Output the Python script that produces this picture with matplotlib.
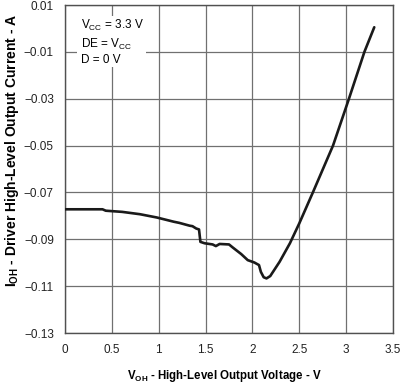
import matplotlib
matplotlib.use("Agg")
import matplotlib.pyplot as plt
from matplotlib.patches import Rectangle

plt.rcParams['font.family'] = ['Liberation Sans', 'DejaVu Sans']
plt.rcParams['mathtext.fontset'] = 'custom'
plt.rcParams['mathtext.rm'] = 'Liberation Sans'
plt.rcParams['mathtext.bf'] = 'Liberation Sans:bold'
plt.rcParams['axes.unicode_minus'] = True

# Curve data
v_oh = [0.00, 0.40, 0.435, 0.61, 0.80, 0.98, 1.16, 1.22, 1.33, 1.36, 1.40, 1.43,
        1.445, 1.49, 1.575, 1.61, 1.65, 1.75, 1.79, 1.88, 1.95, 2.02, 2.07, 2.09,
        2.12, 2.15, 2.19, 2.29, 2.40, 2.50, 2.645, 2.86, 3.03, 3.195, 3.30]
i_oh = [-0.0772, -0.0772, -0.0778, -0.0783, -0.0793, -0.0807, -0.0825, -0.0830,
        -0.0842, -0.0844, -0.0854, -0.0858, -0.0911, -0.0917, -0.0922, -0.0929,
        -0.0920, -0.0922, -0.0935, -0.0963, -0.0989, -0.0999, -0.1010, -0.1039,
        -0.1062, -0.1067, -0.1057, -0.0996, -0.0917, -0.0832, -0.0700, -0.0500,
        -0.0300, -0.0100, 0.0005]

x_ticks = [0, 0.5, 1, 1.5, 2, 2.5, 3, 3.5]
x_tick_labels = ['0', '0.5', '1', '1.5', '2', '2.5', '3', '3.5']
y_ticks = [0.01, -0.01, -0.03, -0.05, -0.07, -0.09, -0.11, -0.13]
y_tick_labels = ['0.01', '\u22120.01', '\u22120.03', '\u22120.05', '\u22120.07',
                 '\u22120.09', '\u22120.11', '\u22120.13']

fig = plt.figure(figsize=(4.02, 3.87), dpi=100)
ax = fig.add_axes([65/402, 1 - 333/387, (393-65)/402, (333-5)/387])

ax.set_xlim(0, 3.5)
ax.set_ylim(-0.13, 0.01)
ax.set_xticks(x_ticks)
ax.set_xticklabels(x_tick_labels)
ax.set_yticks(y_ticks)
ax.set_yticklabels(y_tick_labels)
ax.tick_params(axis='both', length=0, labelsize=8.5, colors='#222222')
ax.tick_params(axis='x', pad=8)
ax.tick_params(axis='y', pad=8)

ax.grid(True, color='#707070', linewidth=0.9)
ax.set_axisbelow(True)
for s in ax.spines.values():
    s.set_color('#505050')
    s.set_linewidth(1.0)

ax.plot(v_oh, i_oh, color='#1a1a1a', linewidth=1.9, zorder=3,
        solid_joinstyle='round', solid_capstyle='round')

# white label box covering the grid
ax.add_patch(Rectangle((0.037, 0.81), 0.21, 0.155, transform=ax.transAxes,
                       facecolor='white', edgecolor='none', zorder=2))
ax.text(0.05, 0.926, r'V$_{\mathrm{CC}}$ = 3.3 V', transform=ax.transAxes,
        fontsize=8.5, va='baseline', ha='left', zorder=4)
ax.text(0.05, 0.868, r'DE = V$_{\mathrm{CC}}$', transform=ax.transAxes,
        fontsize=8.5, va='baseline', ha='left', zorder=4)
ax.text(0.05, 0.822, 'D = 0 V', transform=ax.transAxes,
        fontsize=8.5, va='baseline', ha='left', zorder=4)

ax.set_xlabel(r'$\mathbf{V_{OH}}$ - High-Level Output Voltage - V',
              fontsize=8.3, fontweight='bold')
ax.xaxis.set_label_coords((224-65)/328, -(376-333)/328)
ax.set_ylabel(r'$\mathbf{I_{OH}}$ - Driver High-Level Output Current - A',
              fontsize=10.0, fontweight='bold')
ax.yaxis.set_label_coords((12-65)/328, (333-150)/328)
ax.xaxis.label.set_va('center')
ax.yaxis.label.set_va('center')

fig.savefig('out.png', dpi=100)
